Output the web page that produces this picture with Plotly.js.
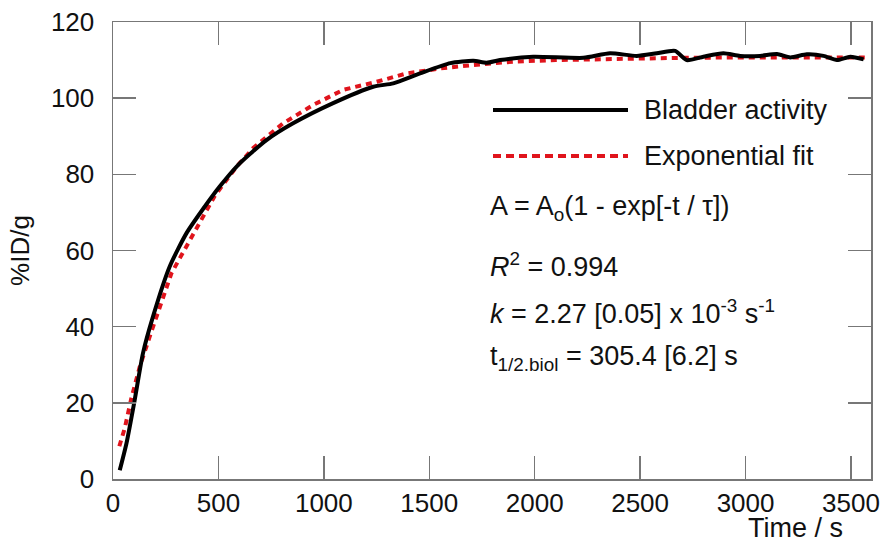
<!DOCTYPE html>
<html>
<head>
<meta charset="utf-8">
<script src="https://cdn.plot.ly/plotly-3.0.1.min.js"></script>
<style>html,body{margin:0;padding:0;background:#fff;}#chart{width:884px;height:544px;}</style>
</head>
<body>
<div id="chart"></div>
<script>
// Bladder activity (measured), time in s, %ID/g
const activityTime = [32, 64, 103, 142, 190, 269, 348, 427, 506, 601, 728, 854, 1044, 1234, 1329, 1456, 1600, 1709, 1772, 1835, 1993, 2231, 2357, 2484, 2579, 2666, 2721, 2800, 2895, 2974, 3069, 3149, 3212, 3291, 3370, 3433, 3497, 3560];
const activityValue = [2.3, 9.4, 20.8, 33.0, 42.7, 55.8, 64.5, 70.9, 76.8, 82.9, 89.0, 93.4, 98.7, 103.0, 103.9, 106.5, 109.2, 109.8, 109.3, 110.0, 110.9, 110.6, 111.8, 111.1, 111.8, 112.4, 110.0, 110.9, 111.8, 111.1, 111.1, 111.6, 110.7, 111.5, 111.1, 110.0, 110.9, 110.2];
// Exponential fit
const fitTime = [30, 56, 87, 127, 174, 230, 277, 317, 356, 396, 443, 483, 586, 665, 807, 949, 1092, 1250, 1392, 1551, 1709, 1900, 2100, 2400, 2700, 3000, 3300, 3580];
const fitValue = [8.6, 13.4, 21.2, 29.5, 37.4, 46.2, 54.0, 58.0, 61.9, 65.9, 70.7, 74.4, 82.0, 86.9, 93.4, 98.2, 102.2, 104.3, 106.5, 107.8, 108.7, 109.6, 110.0, 110.4, 110.6, 110.7, 110.7, 110.7];
const seriesNames = ["Bladder activity", "Exponential fit"];
const fitLines = ["A = A<sub>o</sub>(1 - exp[-t / τ])", "<i>R</i><sup>2</sup> = 0.994", "<i>k</i> = 2.27 [0.05] x 10<sup>-3</sup> s<sup>-1</sup>", "t<sub>1/2.biol</sub> = 305.4 [6.2] s"];
const xTicks = [0, 500, 1000, 1500, 2000, 2500, 3000, 3500];
const yTicks = [0, 20, 40, 60, 80, 100, 120];

const FONT = "Liberation Sans, Arial, sans-serif";
const L = 113, T = 22, W = 758, H = 457;
const px = x => (x - L) / W;
const py = y => (T + H - y) / H;

const traces = [
  {x: fitTime, y: fitValue, mode: "lines", name: seriesNames[1],
   line: {color: "#e0141c", width: 4, dash: "6px,5px"}, showlegend: false},
  {x: activityTime, y: activityValue, mode: "lines", name: seriesNames[0],
   line: {color: "#000", width: 4, shape: "spline", smoothing: 0.6}, showlegend: false}
];

const ann = [];
ann.push({xref: "paper", yref: "paper", x: px(642), y: py(110), xanchor: "left", yanchor: "middle", showarrow: false, text: seriesNames[0], font: {family: FONT, size: 27, color: "#111"}});
ann.push({xref: "paper", yref: "paper", x: px(642), y: py(156), xanchor: "left", yanchor: "middle", showarrow: false, text: seriesNames[1], font: {family: FONT, size: 27, color: "#111"}});
const fy = [208, 265, 312, 358];
fitLines.forEach((t, i) => ann.push({xref: "paper", yref: "paper", x: px(488), y: py(fy[i]), xanchor: "left", yanchor: "middle", showarrow: false, text: t, font: {family: FONT, size: 27, color: "#111"}}));
ann.push({xref: "paper", yref: "paper", x: px(845), y: py(528), xanchor: "right", yanchor: "middle", showarrow: false, text: "Time / s", font: {family: FONT, size: 27, color: "#111"}});

const layout = {
  width: 884, height: 544,
  margin: {l: L, r: 884 - L - W, t: T, b: 544 - T - H},
  paper_bgcolor: "#fff", plot_bgcolor: "#fff",
  showlegend: false,
  font: {family: FONT, color: "#111"},
  xaxis: {range: [0, 3595], tickvals: xTicks, ticktext: xTicks.map(String), ticks: "inside", ticklen: 23, tickwidth: 1.5, tickcolor: "#777",
    showline: true, linecolor: "#777", linewidth: 1.5, mirror: "ticks", showgrid: false, zeroline: false,
    tickfont: {family: FONT, size: 26, color: "#111"}},
  yaxis: {range: [0, 120], tickvals: yTicks, ticktext: yTicks.map(String), ticks: "inside", ticklen: 23, tickwidth: 1.5, tickcolor: "#777",
    showline: true, linecolor: "#777", linewidth: 1.5, mirror: "ticks", showgrid: false, zeroline: false,
    tickfont: {family: FONT, size: 26, color: "#111"}, ticklabelstandoff: 12,
    title: {text: "%ID/g", font: {family: FONT, size: 26, color: "#111"}, standoff: 14}},
  shapes: [
    {type: "line", xref: "paper", yref: "paper", x0: px(493), x1: px(628), y0: py(110), y1: py(110), line: {color: "#000", width: 4}},
    {type: "line", xref: "paper", yref: "paper", x0: px(493), x1: px(628), y0: py(156), y1: py(156), line: {color: "#e0141c", width: 4, dash: "8px,5px"}}
  ],
  annotations: ann
};

Plotly.newPlot("chart", traces, layout, {displayModeBar: false, staticPlot: true});
</script>
</body>
</html>
